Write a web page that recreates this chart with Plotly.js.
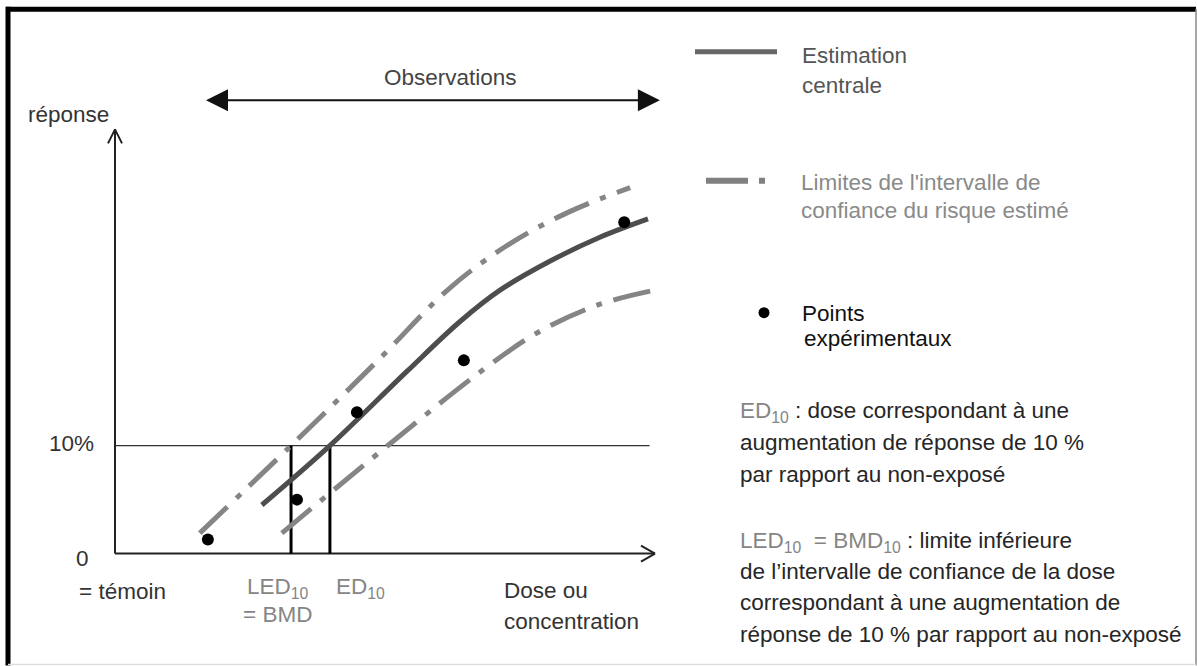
<!DOCTYPE html>
<html>
<head>
<meta charset="utf-8">
<script src="https://cdn.plot.ly/plotly-3.0.1.min.js"></script>
<style>
  html, body { margin: 0; padding: 0; background: #fff; }
  #chart { width: 1197px; height: 666px; }
</style>
</head>
<body>
<div id="chart"></div>
<script>
// ---- Data (dose in arbitrary units, response as fraction) ----
const centralDose = [2.72, 3.98, 5.41, 6.39, 7.13, 8.06, 8.98, 9.87];
const centralResp = [0.045, 0.100, 0.169, 0.215, 0.244, 0.271, 0.293, 0.310];

const upperDose = [1.57, 3.26, 4.91, 6.20, 7.31, 8.43, 9.54];
const upperResp = [0.019, 0.100, 0.181, 0.246, 0.287, 0.317, 0.339];

const lowerDose = [3.09, 5.00, 6.81, 7.87, 8.98, 10.09];
const lowerResp = [0.019, 0.098, 0.170, 0.206, 0.231, 0.245];

const pointDose = [1.72, 3.37, 4.48, 6.46, 9.43];
const pointResp = [0.013, 0.050, 0.131, 0.179, 0.307];

const threshold = 0.10;   // 10 % response
const led10 = 3.26;       // LED10 = BMD
const ed10 = 3.98;        // ED10
const doseAxisMax = 10.0;
const respAxisMax = 0.393;
const obsStart = 1.63, obsEnd = 10.09, obsLevel = 0.42;

// ---- Layout geometry ----
const W = 1197, H = 666;
const origin = { x: 115, y: 554 };
const kx = 54, ky = 1080;               // pixels per unit
const xRange = [-0.5, 10.5];
const yRange = [-0.03, 0.46];
const M = {
  l: origin.x + xRange[0] * kx,
  r: W - (origin.x + xRange[1] * kx),
  t: origin.y - yRange[1] * ky,
  b: H - (origin.y - yRange[0] * ky)
};
const plotW = W - M.l - M.r, plotH = H - M.t - M.b;
const PX = px => (px - M.l) / plotW;
const PY = py => (H - M.b - py) / plotH;

const FONT = 'Liberation Sans, Arial, Helvetica, sans-serif';
const FS = 22.5;
const GRAY_TXT = '#858585';
const DARK_TXT = '#262626';
const dashDot = '38px,12px,6px,12px';

const traces = [
  { x: upperDose, y: upperResp, mode: 'lines', line: { color: '#858585', width: 5, dash: dashDot, shape: 'spline', smoothing: 1 }, hoverinfo: 'skip' },
  { x: lowerDose, y: lowerResp, mode: 'lines', line: { color: '#858585', width: 5, dash: dashDot, shape: 'spline', smoothing: 1 }, hoverinfo: 'skip' },
  { x: centralDose, y: centralResp, mode: 'lines', line: { color: '#4d4d4d', width: 5, shape: 'spline', smoothing: 1 }, hoverinfo: 'skip' },
  { x: pointDose, y: pointResp, mode: 'markers', marker: { color: '#000', size: 12 }, hoverinfo: 'skip' }
];

const dx = 14 / kx, dy = 8 / ky;      // x-axis chevron size in data units
const ydx = 7 / kx, ydy = 14 / ky;    // y-axis chevron
const line = (x0, y0, x1, y1, color, width) => ({ type: 'line', xref: 'x', yref: 'y', x0, y0, x1, y1, line: { color, width }, layer: 'below' });
const pline = (x0, y0, x1, y1, color, width) => ({ type: 'line', xref: 'paper', yref: 'paper', x0: PX(x0), y0: PY(y0), x1: PX(x1), y1: PY(y1), line: { color, width } });

const shapes = [
  // axes
  line(0, 0, 0, respAxisMax, '#222', 2),
  line(0, 0, doseAxisMax, 0, '#222', 2),
  line(0, respAxisMax, ydx, respAxisMax - ydy, '#222', 2),
  line(0, respAxisMax, -ydx, respAxisMax - ydy, '#222', 2),
  line(doseAxisMax, 0, doseAxisMax - dx, dy, '#222', 2),
  line(doseAxisMax, 0, doseAxisMax - dx, -dy, '#222', 2),
  // 10% line
  line(0, threshold, 9.9, threshold, '#333', 1.3),
  // LED10 and ED10 verticals
  line(led10, 0, led10, threshold, '#000', 3),
  line(ed10, 0, ed10, threshold, '#000', 3),
  // legend samples
  pline(695, 52, 777, 52, '#666', 5),
  pline(706, 181, 748, 181, '#808080', 6),
  { type: 'rect', xref: 'paper', yref: 'paper', x0: PX(759), y0: PY(178), x1: PX(765), y1: PY(184), fillcolor: '#808080', line: { width: 0 } },
  { type: 'circle', xref: 'paper', yref: 'paper', x0: PX(758.5), y0: PY(307.5), x1: PX(769.5), y1: PY(318.5), fillcolor: '#000', line: { width: 0 } },
  // frame
  pline(6, 9.5, 1196, 9.5, '#000', 5),
  pline(8, 7, 8, 666, '#000', 5),
  pline(1196, 9, 1196, 666, '#8a8a8a', 1.5),
  pline(8, 665, 1196, 665, '#dddddd', 1.5)
];

const ann = (text, px, py, opts) => Object.assign({
  text, xref: 'paper', yref: 'paper', x: PX(px), y: PY(py), xanchor: 'left', yanchor: 'middle',
  showarrow: false, font: { family: FONT, size: FS, color: DARK_TXT }
}, opts || {});
const f = color => ({ family: FONT, size: FS, color });
const g = s => '<span style="color:' + GRAY_TXT + '">' + s + '</span>';

const annotations = [
  // Observations double arrow
  { xref: 'x', yref: 'y', x: obsEnd, y: obsLevel, axref: 'x', ayref: 'y', ax: obsStart, ay: obsLevel,
    showarrow: true, arrowside: 'end+start', arrowhead: 2, arrowsize: 2.2, arrowwidth: 2, arrowcolor: '#111', text: ' ' },
  ann('Observations', 450, 78, { xanchor: 'center', font: f('#444') }),
  ann('réponse', 68, 115, { xanchor: 'center', font: f('#333') }),
  ann('10%', 71, 444, { xanchor: 'center', font: f('#333') }),
  ann('0', 82, 559, { xanchor: 'center', font: f('#333') }),
  ann('= témoin', 77, 592, { font: f('#333') }),
  ann('LED<sub>10</sub>', 245, 588, { font: f(GRAY_TXT) }),
  ann('= BMD', 241, 615, { font: f(GRAY_TXT) }),
  ann('ED<sub>10</sub>', 334, 588, { font: f(GRAY_TXT) }),
  ann('Dose ou', 502, 591, { font: f('#333') }),
  ann('concentration', 502, 622, { font: f('#333') }),
  // legend texts
  ann('Estimation', 800, 56, { font: f('#555') }),
  ann('centrale', 800, 86, { font: f('#555') }),
  ann("Limites de l'intervalle de", 799, 183, { font: f('#8a8a8a') }),
  ann('confiance du risque estimé', 799, 211, { font: f('#8a8a8a') }),
  ann('Points', 800, 314, { font: f('#111') }),
  ann('expérimentaux', 802, 339, { font: f('#111') }),
  // definitions
  ann(g('ED<sub>10</sub>') + ' : dose correspondant à une', 738, 412),
  ann('augmentation de réponse de 10 %', 738, 443),
  ann('par rapport au non-exposé', 738, 475),
  ann(g('LED<sub>10</sub>  = BMD<sub>10</sub>') + ' : limite inférieure', 738, 542),
  ann("de l’intervalle de confiance de la dose", 738, 572),
  ann('correspondant à une augmentation de', 738, 603),
  ann('réponse de 10 % par rapport au non-exposé', 738, 635)
];

const layout = {
  width: W, height: H,
  margin: M,
  paper_bgcolor: '#fff',
  plot_bgcolor: 'rgba(0,0,0,0)',
  showlegend: false,
  xaxis: { range: xRange, visible: false, fixedrange: true },
  yaxis: { range: yRange, visible: false, fixedrange: true },
  shapes, annotations
};

Plotly.newPlot('chart', traces, layout, { displayModeBar: false, staticPlot: true });
</script>
</body>
</html>
